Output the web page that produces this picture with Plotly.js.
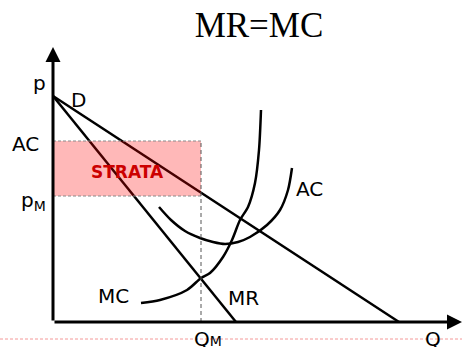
<!DOCTYPE html>
<html>
<head>
<meta charset="utf-8">
<script src="https://cdn.plot.ly/plotly-3.0.1.min.js"></script>
<style>
  html, body { margin: 0; padding: 0; background: #fff; }
  #chart { width: 462px; height: 347px; }
</style>
</head>
<body>
<div id="chart"></div>
<script>
// monopoly with a loss: MR = MC, price below average cost
// units: Q to the right, p upwards (origin at the corner of the axes)

// demand D
const demandQ = [0, 346];
const demandP = [226, 0];

// marginal revenue MR
const mrQ = [0, 183];
const mrP = [226, 0];

// marginal cost MC
const mcQ = [88, 107, 134, 148, 157, 170, 179, 187, 195, 202, 206, 208];
const mcP = [19, 22, 32, 44, 49, 65, 82, 102, 115, 139, 172, 212];

// average cost AC
const acQ = [106, 118, 132, 147, 160, 172, 185, 197, 214, 227, 235, 239];
const acP = [115, 102, 91, 84, 80, 78, 80, 85, 97, 112, 132, 154];

// equilibrium and loss rectangle
const qM = 148;
const pM = 126;
const acM = 181;

// axis extents
const qMax = 407;
const pMax = 275;

const font = "DejaVu Sans, Verdana, sans-serif";

const curve = (x, y, name) => ({
  type: "scatter",
  mode: "lines",
  x: x,
  y: y,
  name: name,
  line: { color: "black", width: 2.5, shape: "spline", smoothing: 0.8 },
  hoverinfo: "skip",
});

const data = [
  curve(demandQ, demandP, "D"),
  curve(mrQ, mrP, "MR"),
  curve(mcQ, mcP, "MC"),
  curve(acQ, acP, "AC"),
];

const shapes = [
  // loss area (STRATA)
  {
    type: "rect",
    xref: "x", yref: "y",
    x0: 0, x1: qM, y0: pM, y1: acM,
    fillcolor: "rgba(255,0,0,0.28)",
    line: { width: 0 },
    layer: "above",
  },
  {
    type: "line", xref: "x", yref: "y",
    x0: 0, x1: qM, y0: acM, y1: acM,
    line: { color: "#8a8a8a", width: 1, dash: "3px,2px" },
    layer: "above",
  },
  {
    type: "line", xref: "x", yref: "y",
    x0: 0, x1: qM, y0: pM, y1: pM,
    line: { color: "#8a8a8a", width: 1, dash: "3px,2px" },
    layer: "above",
  },
  // Q_M dashed guide
  {
    type: "line", xref: "x", yref: "y",
    x0: qM, x1: qM, y0: 0, y1: acM,
    line: { color: "#555", width: 1, dash: "4px,3px" },
    layer: "above",
  },
  // faint red dotted line under the axis
  {
    type: "line", xref: "paper", yref: "y",
    x0: 0, x1: 1, y0: -17, y1: -17,
    line: { color: "rgba(240,110,110,0.7)", width: 1, dash: "3px,2px" },
    layer: "below",
  },
];

const label = (x, y, text, extra = {}) =>
  Object.assign(
    {
      x: x, y: y, xref: "x", yref: "y",
      text: text,
      showarrow: false,
      font: { family: font, size: 20, color: "black" },
      xanchor: "center", yanchor: "middle",
    },
    extra
  );

const axisArrow = (x, y) => ({
  x: x, y: y, xref: "x", yref: "y",
  ax: 0, ay: 0, axref: "x", ayref: "y",
  text: "",
  showarrow: true,
  arrowhead: 2,
  arrowsize: 1,
  arrowwidth: 3,
  arrowcolor: "black",
  standoff: 0,
});

const annotations = [
  axisArrow(qMax + 2, 0),
  axisArrow(0, pMax),
  label(-14, 239, "p"),
  label(25, 222, "D"),
  label(-28, 178, "AC"),
  label(-20, 121, "p<sub>M</sub>"),
  label(74, 150, "<b>STRATA</b>", { font: { family: font, size: 17, color: "#cc0000" } }),
  label(256, 133, "AC"),
  label(60, 26, "MC"),
  label(190, 24, "MR"),
  label(155, -17, "Q<span style='font-size:14px'>M</span>"),
  label(380, -17, "Q"),
];

const layout = {
  width: 462,
  height: 347,
  margin: { l: 0, r: 0, t: 0, b: 0 },
  paper_bgcolor: "white",
  plot_bgcolor: "white",
  showlegend: false,
  title: {
    text: "MR=MC",
    font: { family: "Liberation Serif, Times New Roman, serif", size: 35, color: "black" },
    x: 259 / 462,
    xanchor: "center",
    y: 1 - 25 / 347,
    yanchor: "middle",
    xref: "container",
    yref: "container",
  },
  xaxis: { range: [-53, 409], visible: false, fixedrange: true },
  yaxis: { range: [-25, 322], visible: false, fixedrange: true },
  shapes: shapes,
  annotations: annotations,
};

Plotly.newPlot("chart", data, layout, { displayModeBar: false, staticPlot: true });
</script>
</body>
</html>
